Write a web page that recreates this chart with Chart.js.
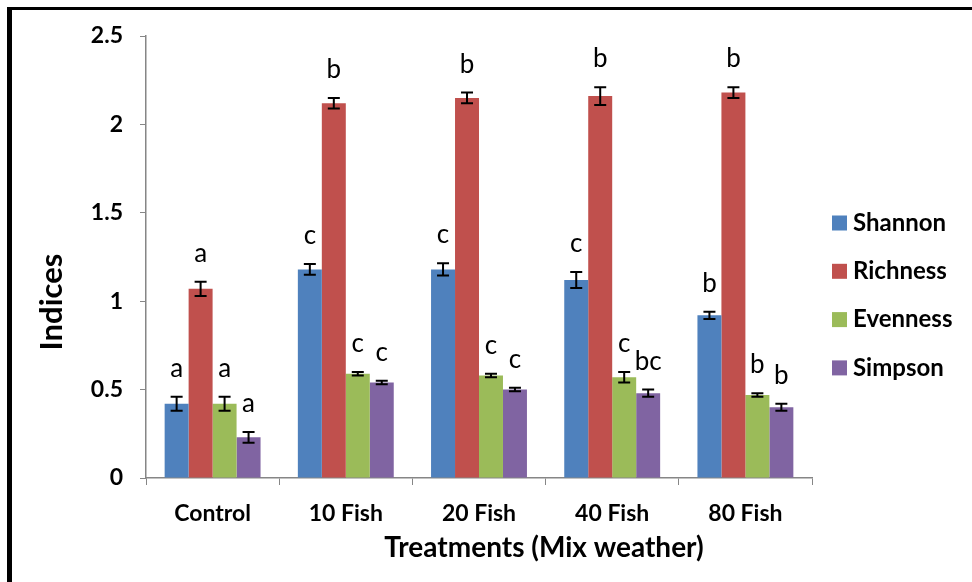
<!DOCTYPE html>
<html>
<head>
<meta charset="utf-8">
<title>Indices by treatment</title>
<script src="https://cdn.jsdelivr.net/npm/chart.js@4.4.1/dist/chart.umd.min.js"></script>
<style>
  html, body { margin: 0; padding: 0; background: #fff; }
  #wrap { width: 972px; height: 582px; }
</style>
</head>
<body>
<div id="wrap"><canvas id="myChart" width="972" height="582"></canvas></div>
<script>
// data
const treatments = ['Control', '10 Fish', '20 Fish', '40 Fish', '80 Fish'];
const shannon  = [0.42, 1.18, 1.18, 1.12, 0.92];
const richness = [1.07, 2.12, 2.15, 2.16, 2.18];
const evenness = [0.42, 0.59, 0.58, 0.57, 0.47];
const simpson  = [0.23, 0.54, 0.50, 0.48, 0.40];

const shannonErr  = [0.04, 0.03, 0.035, 0.045, 0.02];
const richnessErr = [0.04, 0.03, 0.03, 0.05, 0.03];
const evennessErr = [0.04, 0.01, 0.01, 0.03, 0.01];
const simpsonErr  = [0.03, 0.01, 0.01, 0.02, 0.02];

const shannonLetters  = ['a', 'c', 'c', 'c', 'b'];
const richnessLetters = ['a', 'b', 'b', 'b', 'b'];
const evennessLetters = ['a', 'c', 'c', 'c', 'b'];
const simpsonLetters  = ['a', 'c', 'c', 'bc', 'b'];

const yTicks = [0, 0.5, 1, 1.5, 2, 2.5];

const xTitle = 'Treatments (Mix weather)';
const yTitle = 'Indices';

const COLORS = {
    blue: '#4F81BD',
    red: '#C0504D',
    green: '#9BBB59',
    purple: '#8064A2'
};
const FONT = 'Lato, "Open Sans", sans-serif';
const AXIS_GREY = '#868686';

// error bars, significance letters, axis titles, legend and outer frame
const extras = {
    id: 'extras',
    afterDatasetsDraw(chart) {
        const ctx = chart.ctx;
        const y = chart.scales.y;
        ctx.save();
        chart.data.datasets.forEach((ds, i) => {
            const meta = chart.getDatasetMeta(i);
            meta.data.forEach((bar, j) => {
                const v = ds.data[j];
                const e = ds.errors[j];
                const top = y.getPixelForValue(v + e);
                const bot = y.getPixelForValue(v - e);
                ctx.strokeStyle = '#000';
                ctx.lineWidth = 2;
                ctx.beginPath();
                ctx.moveTo(bar.x, top);
                ctx.lineTo(bar.x, bot);
                ctx.moveTo(bar.x - 6, top);
                ctx.lineTo(bar.x + 6, top);
                ctx.moveTo(bar.x - 6, bot);
                ctx.lineTo(bar.x + 6, bot);
                ctx.stroke();

                ctx.fillStyle = '#000';
                ctx.font = '26px ' + FONT;
                ctx.textAlign = 'center';
                ctx.textBaseline = 'alphabetic';
                ctx.fillText(ds.letters[j], bar.x, top - 20);
            });
        });
        ctx.restore();
    },
    afterDraw(chart) {
        const ctx = chart.ctx;
        ctx.save();
        ctx.fillStyle = '#000';
        ctx.textAlign = 'center';
        ctx.textBaseline = 'middle';
        // axis titles (offset like the original, not centred on the plot)
        ctx.font = 'bold 28px ' + FONT;
        ctx.fillText(xTitle, 544, 548);
        ctx.save();
        ctx.translate(52, 302);
        ctx.rotate(-Math.PI / 2);
        ctx.font = 'bold 31px ' + FONT;
        ctx.fillText(yTitle, 0, 0);
        ctx.restore();
        // legend
        ctx.font = 'bold 24px ' + FONT;
        ctx.textAlign = 'left';
        chart.data.datasets.forEach((ds, i) => {
            const cy = 223 + i * 48.3;
            ctx.fillStyle = ds.backgroundColor;
            ctx.fillRect(832, cy - 7.5, 15, 15);
            ctx.fillStyle = '#000';
            ctx.fillText(ds.label, 853, cy);
        });
        // frame
        ctx.fillStyle = '#000';
        ctx.fillRect(7, 7, 965, 3);
        ctx.fillRect(7, 7, 5, 575);
        ctx.restore();
    }
};

const actx = document.getElementById('myChart');

new Chart(actx, {
    type: 'bar',
    data: {
        labels: treatments,
        datasets: [
            { label: 'Shannon', data: shannon, errors: shannonErr, letters: shannonLetters, backgroundColor: COLORS.blue },
            { label: 'Richness', data: richness, errors: richnessErr, letters: richnessLetters, backgroundColor: COLORS.red },
            { label: 'Evenness', data: evenness, errors: evennessErr, letters: evennessLetters, backgroundColor: COLORS.green },
            { label: 'Simpson', data: simpson, errors: simpsonErr, letters: simpsonLetters, backgroundColor: COLORS.purple }
        ]
    },
    options: {
        responsive: false,
        animation: false,
        devicePixelRatio: 1,
        datasets: {
            bar: { barPercentage: 1, categoryPercentage: 0.72 }
        },
        layout: {
            padding: { left: 36, right: 160, top: 36, bottom: 20 }
        },
        plugins: {
            legend: { display: false },
            tooltip: { enabled: false }
        },
        scales: {
            x: {
                afterFit: (s) => { s.height = 84; },
                grid: {
                    drawOnChartArea: false,
                    offset: true,
                    color: AXIS_GREY,
                    tickLength: 7
                },
                border: { color: AXIS_GREY, width: 1.5 },
                ticks: {
                    color: '#000',
                    padding: 15,
                    font: { family: FONT, size: 23, weight: 'bold' }
                }
            },
            y: {
                min: 0,
                max: 2.5,
                afterFit: (s) => { s.width = 110; },
                afterBuildTicks: (s) => { s.ticks = yTicks.map(v => ({ value: v })); },
                grid: {
                    drawOnChartArea: false,
                    color: AXIS_GREY,
                    tickLength: 6
                },
                border: { color: AXIS_GREY, width: 1.5 },
                ticks: {
                    color: '#000',
                    padding: 17,
                    font: { family: FONT, size: 23, weight: 'bold' },
                    callback: (v) => String(v)
                }
            }
        }
    },
    plugins: [extras]
});
</script>
</body>
</html>
